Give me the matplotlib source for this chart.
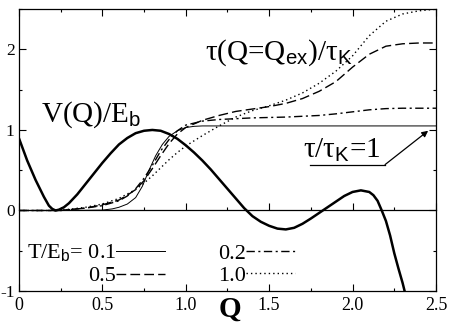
import matplotlib
matplotlib.use("Agg")
import matplotlib.pyplot as plt
from matplotlib.ticker import MultipleLocator, FixedLocator, FixedFormatter

plt.rcParams['font.family'] = ['Liberation Serif', 'DejaVu Serif']
plt.rcParams['mathtext.fontset'] = 'custom'
plt.rcParams['mathtext.rm'] = 'Liberation Serif'
plt.rcParams['mathtext.sf'] = 'Liberation Sans'
plt.rcParams['xtick.direction'] = 'in'
plt.rcParams['ytick.direction'] = 'in'

# potential V(Q)/E_b
q_v = [0.0, 0.05, 0.1, 0.15, 0.18, 0.2, 0.22, 0.24, 0.27, 0.3, 0.35, 0.4, 0.45, 0.5, 0.55,
       0.6, 0.65, 0.7, 0.75, 0.8, 0.85, 0.9, 0.95, 1.0, 1.05, 1.1, 1.15, 1.2,
       1.25, 1.3, 1.35, 1.4, 1.45, 1.5, 1.55, 1.6, 1.65, 1.7, 1.75, 1.8, 1.85,
       1.9, 1.95, 2.0, 2.05, 2.1, 2.125, 2.15, 2.175, 2.2, 2.225, 2.25, 2.275,
       2.3, 2.33]
v = [0.9, 0.62, 0.38, 0.17, 0.06, 0.02, 0.0, 0.01, 0.04, 0.09, 0.2, 0.33, 0.46, 0.59, 0.71,
     0.82, 0.9, 0.96, 0.99, 1.0, 0.99, 0.95, 0.89, 0.81, 0.72, 0.62, 0.51, 0.39,
     0.27, 0.15, 0.03, -0.07, -0.14, -0.19, -0.225, -0.235, -0.215, -0.165, -0.1, -0.03, 0.04,
     0.11, 0.18, 0.23, 0.25, 0.23, 0.19, 0.12, 0.0, -0.13, -0.31, -0.53, -0.72,
     -0.9, -1.15]

# tau(Q=Q_ex)/tau_K for T/E_b = 0.1
q_t01 = [0, 0.3, 0.5, 0.56, 0.6, 0.65, 0.7, 0.74, 0.78, 0.82, 0.86, 0.9, 0.95, 1.0, 1.05, 1.1, 2.5]
t01 = [0, 0, 0.005, 0.02, 0.04, 0.08, 0.16, 0.3, 0.5, 0.68, 0.82, 0.92, 0.99, 1.03, 1.045, 1.05, 1.05]

# T/E_b = 0.2
q_t02 = [0, 0.25, 0.4, 0.5, 0.6, 0.65, 0.7, 0.75, 0.8, 0.85, 0.9, 0.95, 1.0, 1.1, 1.2,
         1.3, 1.4, 1.5, 1.6, 1.7, 1.8, 1.9, 2.0, 2.1, 2.2, 2.3, 2.5]
t02 = [0, 0.0, 0.03, 0.06, 0.12, 0.18, 0.27, 0.4, 0.56, 0.74, 0.88, 0.99, 1.06, 1.11, 1.13,
       1.14, 1.15, 1.155, 1.16, 1.17, 1.18, 1.2, 1.225, 1.25, 1.265, 1.27, 1.27]

# T/E_b = 0.5
q_t05 = [0, 0.25, 0.4, 0.5, 0.6, 0.65, 0.7, 0.75, 0.8, 0.85, 0.9, 0.95, 1.0, 1.1, 1.2,
         1.3, 1.4, 1.5, 1.6, 1.7, 1.8, 1.9, 2.0, 2.1, 2.2, 2.3, 2.4, 2.5]
t05 = [0, 0.0, 0.03, 0.07, 0.13, 0.19, 0.26, 0.37, 0.52, 0.68, 0.83, 0.95, 1.03, 1.12, 1.18,
       1.23, 1.26, 1.29, 1.33, 1.39, 1.48, 1.6, 1.78, 1.94, 2.04, 2.07, 2.08, 2.08]

# T/E_b = 1.0
q_t10 = [0, 0.2, 0.3, 0.4, 0.5, 0.6, 0.7, 0.75, 0.8, 0.85, 0.9, 0.95, 1.0, 1.1, 1.2,
         1.3, 1.4, 1.5, 1.6, 1.7, 1.8, 1.9, 2.0, 2.1, 2.2, 2.3, 2.4, 2.5]
t10 = [0, 0.0, 0.015, 0.04, 0.08, 0.15, 0.26, 0.34, 0.43, 0.53, 0.63, 0.72, 0.8, 0.93, 1.05,
       1.16, 1.24, 1.3, 1.37, 1.46, 1.58, 1.73, 1.92, 2.17, 2.35, 2.44, 2.48, 2.5]

x_ticks = [0, 0.5, 1.0, 1.5, 2.0, 2.5]
x_labels = ['0', '0.5', '1.0', '1.5', '2.0', '2.5']
y_ticks = [-1, 0, 1, 2]
y_labels = ['-1', '0', '1', '2']

fig = plt.figure(figsize=(4.49, 3.27), dpi=100)
ax = fig.add_axes([0.042, 0.110, 0.929, 0.862])

ax.plot(q_v, v, color='black', lw=1.8, solid_joinstyle='round')
l1, = ax.plot(q_t01, t01, color='black', lw=0.7, label=r'T/E$_{\mathsf{b}}$= 0.1')
l5, = ax.plot(q_t05, t05, color='black', lw=1.0, dashes=(7, 3), label='0.5')
l2, = ax.plot(q_t02, t02, color='black', lw=1.0, dashes=(6, 2.5, 1.5, 2.5), label='0.2')
l10, = ax.plot(q_t10, t10, color='black', lw=1.0, dashes=(1, 2.2), label='1.0')

ax.set_xlim(0, 2.5)
ax.set_ylim(-1, 2.5)
ax.xaxis.set_major_locator(FixedLocator(x_ticks))
ax.xaxis.set_major_formatter(FixedFormatter(x_labels))
ax.xaxis.set_minor_locator(MultipleLocator(0.25))
ax.yaxis.set_major_locator(FixedLocator(y_ticks))
ax.yaxis.set_major_formatter(FixedFormatter(y_labels))
ax.yaxis.set_minor_locator(MultipleLocator(0.5))
ax.tick_params(which='both', top=True, right=True, width=0.8)
ax.tick_params(axis='x', labelsize=13, pad=4)
ax.tick_params(axis='y', labelsize=12.5, pad=3)
ax.tick_params(which='major', length=5)
ax.tick_params(which='minor', length=2.5)
for s in ax.spines.values():
    s.set_linewidth(0.9)

# zero line with its own ticks
y0 = (0 - ax.get_ylim()[0]) / (ax.get_ylim()[1] - ax.get_ylim()[0])
sec = ax.secondary_xaxis(y0)
sec.xaxis.set_major_locator(MultipleLocator(0.5))
sec.xaxis.set_minor_locator(MultipleLocator(0.25))
sec.tick_params(which='both', direction='in', labelbottom=False, labeltop=False, width=0.8)
sec.tick_params(which='major', length=5)
sec.tick_params(which='minor', length=2.5)
for s in sec.spines.values():
    s.set_linewidth(0.9)

ax.set_xlabel('Q', fontsize=21, fontweight='bold', va='top')
ax.xaxis.set_label_coords(0.506, -0.015)

ax.text(0.13, 1.10, r'V(Q)/E$_{\mathsf{b}}$', fontsize=21)
ax.text(1.116, 1.87, r'τ(Q=Q$_{\mathsf{ex}}$)/τ$_{\mathsf{K}}$', fontsize=21)
ax.text(1.70, 0.66, r'τ/τ$_{\mathsf{K}}$=1', fontsize=21)
ax.plot([1.745, 2.195], [0.57, 0.57], color='black', lw=0.9)
ax.annotate('', xy=(2.453, 0.99), xytext=(2.195, 0.57),
            arrowprops=dict(arrowstyle='-|>', color='black', lw=0.9,
                            mutation_scale=9, shrinkA=0, shrinkB=0))

ax.legend(handles=[l1, l5, l2, l10], ncol=2, markerfirst=False, frameon=False,
          loc='upper left', bbox_to_anchor=(0.019, 0.172), borderaxespad=0,
          borderpad=0, fontsize=16, handlelength=2.2, handletextpad=0.0,
          labelspacing=0.08, columnspacing=2.4)

fig.savefig('out.png', dpi=100)
